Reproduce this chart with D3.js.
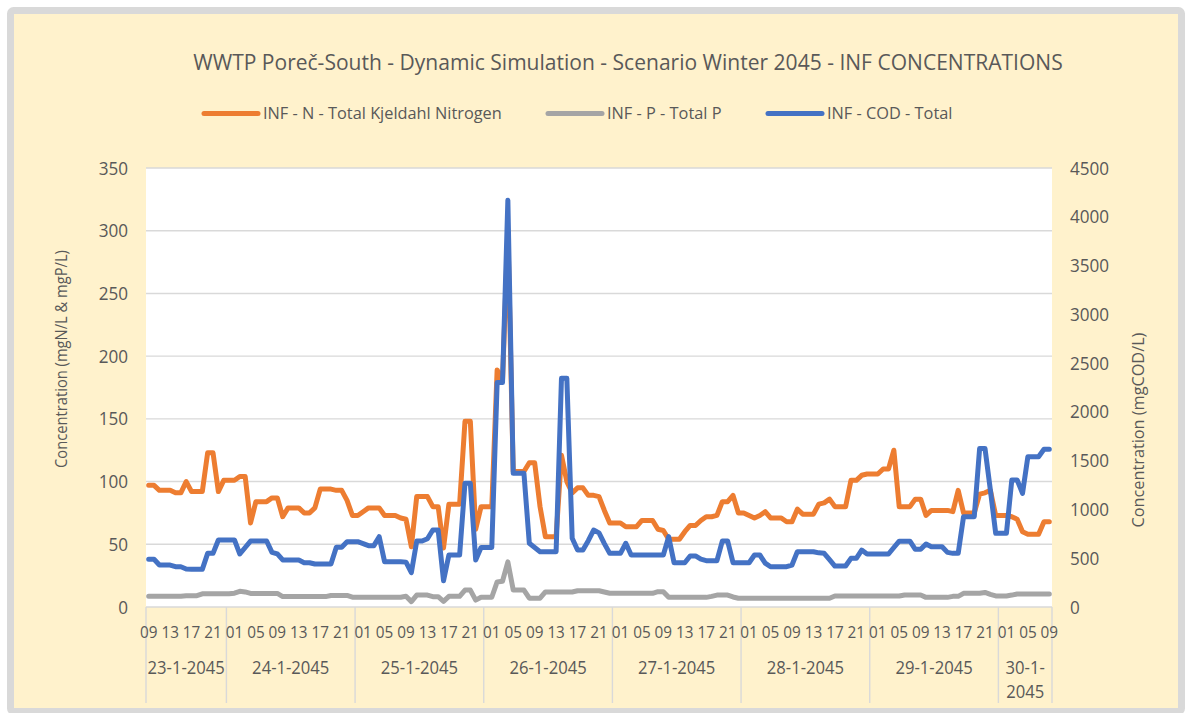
<!DOCTYPE html>
<html><head><meta charset="utf-8">
<script src="https://cdn.jsdelivr.net/npm/d3@7"></script>
<style>
body{margin:0;background:#fff}
svg{display:block}
text{font-family:"Open Sans","Noto Sans",sans-serif;fill:#595959}
</style>
</head><body>
<svg id="chart" width="1192" height="713"></svg>
<script>
// ---------------- DATA ----------------
const chartTitle = "WWTP Poreč-South - Dynamic Simulation - Scenario Winter 2045 - INF CONCENTRATIONS";
const days = ["23-1-2045","24-1-2045","25-1-2045","26-1-2045","27-1-2045","28-1-2045","29-1-2045","30-1-2045"];
const firstHour = 9;   // first hour on first day
const lastHour = 9;    // last hour on last day
const seriesNames = ["INF - N - Total Kjeldahl Nitrogen","INF - P - Total P","INF - COD - Total"];
const leftTicks = [0,50,100,150,200,250,300,350];
const rightTicks = [0,500,1000,1500,2000,2500,3000,3500,4000,4500];
const leftTitle = "Concentration (mgN/L & mgP/L)";
const rightTitle = "Concentration (mgCOD/L)";

const nitrogen = [97,97,93,93,93,91,91,100,92,92,92,123,123,92,101,101,101,104,104,67,
84,84,84,87,87,72,79,79,79,75,75,79,94,94,94,93,93,85,73,73,
76,79,79,79,73,73,73,71,70,48,88,88,88,80,80,47,82,82,82,148,
148,62,80,80,80,189,180,300,108,108,108,115,115,80,56,56,56,121,100,91,
95,95,89,89,88,77,67,67,67,64,64,64,69,69,69,62,61,54,54,54,
60,65,65,69,72,72,73,84,84,89,75,75,73,71,73,76,71,71,71,68,
68,78,74,74,74,82,83,86,80,80,80,101,101,105,106,106,106,110,110,125,
80,80,80,86,86,73,77,77,77,77,76,93,75,75,75,90,91,93,73,73,
73,72,70,60,58,58,58,68,68];

const phosphorus = [8.6,8.6,8.6,8.6,8.6,8.6,8.6,9,9,9,10.5,10.5,10.5,10.5,10.5,10.5,11,12.5,12,10.8,
10.8,10.8,10.8,10.8,10.8,8.3,8.3,8.3,8.3,8.3,8.3,8.3,8.3,8.3,9.2,9.2,9.2,9.2,7.8,7.8,
7.8,7.8,7.8,7.8,7.8,7.8,7.8,7.8,8.5,4.3,9.5,9.5,9.5,8.2,8.2,4.5,8.5,8.5,8.5,13.5,
13.5,5.5,7.8,7.8,7.8,20,20.5,36,13.5,13.5,13.5,7,7,7,12,12,12,12,12,12,
13,13,13,13,13,12,11,11,11,10.9,10.9,10.9,10.9,10.9,10.9,12.2,12.2,7.7,7.7,7.7,
7.7,7.7,7.7,7.7,7.7,8.5,9.5,9.5,9.5,8,7,7,7,7,7,7,7,7,7,7,
7,7,7,7,7,7,7,7,8.8,8.8,8.8,8.8,8.8,8.8,8.8,8.8,8.8,8.8,8.8,8.8,
8.8,9.6,9.6,9.6,9.6,7.7,7.7,7.7,7.7,7.7,8.5,8.5,10.9,10.9,10.9,10.9,11.6,10,8.8,8.8,
8.8,9.5,10.4,10.4,10.4,10.4,10.4,10.4,10.4];

const cod = [489,489,430,430,430,413,413,390,386,386,386,550,550,687,687,687,687,543,610,676,
676,676,676,560,545,482,482,482,482,454,454,441,441,441,441,612,612,669,669,669,
650,629,629,721,465,465,465,465,460,352,676,676,700,789,789,270,533,533,533,1268,
1268,482,610,610,610,2300,2300,4170,1370,1370,1370,653,610,567,567,567,567,2344,2344,704,
584,584,680,789,760,650,550,550,550,653,533,533,533,533,533,533,533,721,454,454,
454,523,523,490,475,475,475,676,676,454,454,454,454,533,533,450,413,413,413,413,
430,567,567,567,567,555,550,485,420,420,420,499,499,584,543,543,543,543,543,610,
675,675,675,591,591,646,618,618,618,560,550,550,926,926,926,1626,1626,1200,755,755,
755,1302,1302,1165,1541,1541,1541,1616,1616];

// ---------------- BUILD CATEGORIES ----------------
const categories = [];
days.forEach((d, di) => {
  const h0 = di === 0 ? firstHour : 0;
  const h1 = di === days.length - 1 ? lastHour : 23;
  for (let h = h0; h <= h1; h++) categories.push({day: d, hour: h, key: d + " " + h});
});

// ---------------- LAYOUT ----------------
const colors = {n:"#ED7D31", p:"#A5A5A5", cod:"#4472C4"};
const plot = {l:146, r:1052, t:168, b:607};
const svg = d3.select("#chart");
const SX = 0.9; // horizontal text compression

svg.append("rect").attr("x",10.5).attr("y",10.5).attr("width",1171).attr("height",701)
  .attr("rx",3).attr("fill","#FFF2CC").attr("stroke","#D9D9D9").attr("stroke-width",7);

svg.append("rect").attr("x",plot.l).attr("y",plot.t).attr("width",plot.r-plot.l).attr("height",plot.b-plot.t)
  .attr("fill","#FFFFFF");

const x = d3.scaleBand().domain(categories.map(c => c.key)).range([plot.l, plot.r]).padding(0);
const cx = k => x(k) + x.bandwidth() / 2;
const yL = d3.scaleLinear().domain([0, 350]).range([plot.b, plot.t]);
const yR = d3.scaleLinear().domain([0, 4500]).range([plot.b, plot.t]);

// gridlines
svg.append("g").selectAll("line").data(leftTicks).join("line")
  .attr("x1", plot.l).attr("x2", plot.r)
  .attr("y1", d => yL(d)).attr("y2", d => yL(d))
  .attr("stroke", "#D9D9D9").attr("stroke-width", 1.4);

// day separators on category axis
const dayStarts = days.map(d => categories.find(c => c.day === d).key);
const sepX = dayStarts.map(k => x(k)).concat([plot.r]);
svg.append("g").selectAll("line").data(sepX).join("line")
  .attr("x1", d => d).attr("x2", d => d).attr("y1", plot.b).attr("y2", 703)
  .attr("stroke", "#D9D9D9").attr("stroke-width", 1.4);

// hour labels
const hourAxis = d3.axisBottom(x)
  .tickValues(categories.filter((c, i) => i % 4 === 0).map(c => c.key))
  .tickFormat(k => String(categories.find(c => c.key === k).hour).padStart(2, "0"))
  .tickSize(0);
const ha = svg.append("g").attr("transform", `translate(0,632)`).call(hourAxis);
ha.select(".domain").remove();
ha.selectAll("text").attr("y", 0).attr("dy", "0.35em")
  .style("font-size", "17px").style("font-family", '"Open Sans",sans-serif').attr("fill", "#595959")
  .attr("transform", `scale(${SX},1)`);

// day labels
const DAYFS = 18.5;
days.forEach((d, i) => {
  const x0 = sepX[i], x1 = sepX[i + 1];
  const g = svg.append("g").attr("transform", `translate(${(x0 + x1) / 2},667.5)`);
  const t = g.append("text").attr("text-anchor", "middle").attr("dy", "0.35em")
    .style("font-size", DAYFS + "px").attr("transform", `scale(${SX},1)`).text(d);
  if (t.node().getComputedTextLength() * SX > (x1 - x0) - 1) {
    const cut = d.lastIndexOf("-") + 1;
    t.text(d.slice(0, cut));
    g.append("text").attr("text-anchor", "middle").attr("y", 24.5).attr("dy", "0.35em")
      .style("font-size", DAYFS + "px").attr("transform", `scale(${SX},1)`).text(d.slice(cut));
  }
});

// left axis
const la = svg.append("g").attr("transform", `translate(${plot.l},0)`)
  .call(d3.axisLeft(yL).tickValues(leftTicks).tickSize(0).tickPadding(18).tickFormat(d3.format("d")));
la.select(".domain").remove();
la.selectAll("text").style("font-size", "19px").style("font-family", '"Open Sans",sans-serif')
  .attr("fill", "#595959").attr("x", -18 / SX).attr("transform", `scale(${SX},1)`);

// right axis
const ra = svg.append("g").attr("transform", `translate(${plot.r},0)`)
  .call(d3.axisRight(yR).tickValues(rightTicks).tickSize(0).tickPadding(18).tickFormat(d3.format("d")));
ra.select(".domain").remove();
ra.selectAll("text").style("font-size", "19px").style("font-family", '"Open Sans",sans-serif')
  .attr("fill", "#595959").attr("x", 18 / SX).attr("transform", `scale(${SX},1)`);

function fit(sel, target) {
  const w = sel.node().getComputedTextLength();
  sel.attr("transform", `scale(${target / w},1)`);
}

// axis titles
const lt = svg.append("g").attr("transform", "translate(61,359) rotate(-90)")
  .append("text").attr("text-anchor", "middle").attr("dy", "0.35em").style("font-size", "17px").text(leftTitle);
fit(lt, 218);
const rt = svg.append("g").attr("transform", "translate(1138,430) rotate(-90)")
  .append("text").attr("text-anchor", "middle").attr("dy", "0.35em").style("font-size", "17px").text(rightTitle);
fit(rt, 195);

// title
const tt = svg.append("g").attr("transform", "translate(628,62)")
  .append("text").attr("text-anchor", "middle").attr("dy", "0.35em").style("font-size", "22px").text(chartTitle);
fit(tt, 870);

// legend
const legendItems = [
  {name: seriesNames[0], color: colors.n, x: 204},
  {name: seriesNames[1], color: colors.p, x: 548},
  {name: seriesNames[2], color: colors.cod, x: 768}
];
let legendScale = null;
legendItems.forEach((it, i) => {
  const g = svg.append("g").attr("transform", `translate(${it.x},113.5)`);
  g.append("line").attr("x1", 0).attr("x2", 54).attr("y1", 0).attr("y2", 0)
    .attr("stroke", it.color).attr("stroke-width", 5).attr("stroke-linecap", "round");
  const tg = g.append("g").attr("transform", "translate(59,0)");
  const t = tg.append("text").attr("dy", "0.35em").style("font-size", "16.5px").text(it.name);
  if (legendScale === null) legendScale = 239 / t.node().getComputedTextLength();
  t.attr("transform", `scale(${legendScale},1)`);
});

// series lines
function drawLine(values, yScale, color) {
  const line = d3.line().x((d, i) => cx(categories[i].key)).y(d => yScale(d));
  svg.append("path").datum(values).attr("d", line).attr("fill", "none")
    .attr("stroke", color).attr("stroke-width", 5)
    .attr("stroke-linejoin", "round").attr("stroke-linecap", "round");
}
drawLine(nitrogen, yL, colors.n);
drawLine(phosphorus, yL, colors.p);
drawLine(cod, yR, colors.cod);
</script>
</body></html>
